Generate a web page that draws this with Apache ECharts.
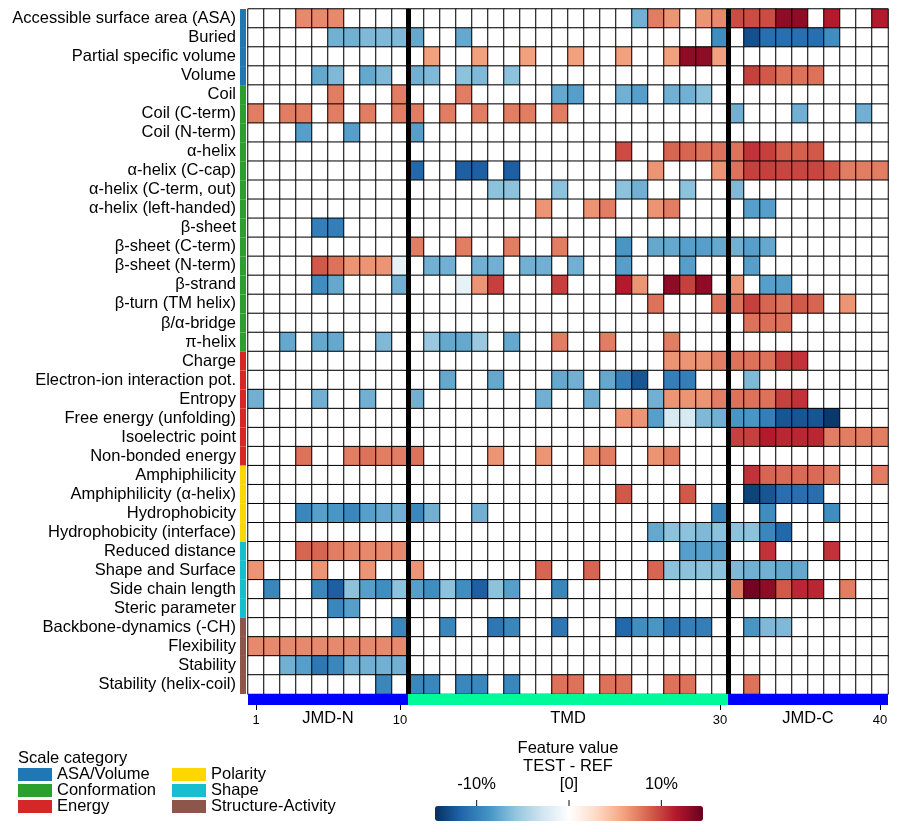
<!DOCTYPE html>
<html>
<head>
<meta charset="utf-8">
<script src="https://cdn.jsdelivr.net/npm/echarts@6/dist/echarts.min.js"></script>
<style>
  html, body { margin: 0; padding: 0; background: #fff; }
  #chart { width: 898px; height: 832px; }
</style>
</head>
<body>
<div id="chart"></div>
<script>
  // feature scales (rows, top to bottom)
  var featureNames = [
    'Accessible surface area (ASA)', 'Buried', 'Partial specific volume', 'Volume',
    'Coil', 'Coil (C-term)', 'Coil (N-term)', 'α-helix', 'α-helix (C-cap)', 'α-helix (C-term, out)',
    'α-helix (left-handed)', 'β-sheet', 'β-sheet (C-term)', 'β-sheet (N-term)', 'β-strand',
    'β-turn (TM helix)', 'β/α-bridge', 'π-helix',
    'Charge', 'Electron-ion interaction pot.', 'Entropy', 'Free energy (unfolding)',
    'Isoelectric point', 'Non-bonded energy',
    'Amphiphilicity', 'Amphiphilicity (α-helix)', 'Hydrophobicity', 'Hydrophobicity (interface)',
    'Reduced distance', 'Shape and Surface', 'Side chain length', 'Steric parameter',
    'Backbone-dynamics (-CH)', 'Flexibility', 'Stability', 'Stability (helix-coil)'
  ]
  var scaleCategories = ['ASA/Volume', 'Conformation', 'Energy', 'Polarity', 'Shape', 'Structure-Activity']
  var categoryRowCounts = [4, 14, 6, 4, 4, 4]
  var categoryColors = ['#1f77b4', '#2ca02c', '#d62728', '#ffd700', '#17becf', '#8c564b']

  // sequence parts
  var segmentNames = ['JMD-N', 'TMD', 'JMD-C']
  var segmentLengths = [10, 20, 10]
  var segmentColors = ['#0000ff', '#00fa9a', '#0000ff']
  var positionTicks = [1, 10, 30, 40]

  // colorbar
  var colorMin = -14.5
  var colorMax = 14.5
  var colorbarTicks = [-10, 0, 10]
  var colorbarTickLabels = ['-10%', '[0]', '10%']

  // feature values (TEST - REF, %), one array per position 1..40
  var asaVolumeRows = [
    [0,0,0,7,7,7,0,0,0,0, 0,0,0,0,0,0,0,0,0,0, 0,0,0,0,-7,7.5,6.5,0,6.5,7, 9.5,9.5,9.5,13,13,0,11.5,0,0,11.5],
    [0,0,0,0,0,-7,-7,-6.5,-6.5,-6.5, -7.5,0,0,-7.5,0,0,0,0,0,0, 0,0,0,0,0,0,0,0,0,-9, 0,-12.8,-11,-11,-11,-11,-9,0,0,0],
    [0,0,0,0,0,0,0,0,0,0, 0,6,0,0,6,0,0,6,0,0, 6,0,0,6,0,0,6,13,13,6, 0,0,0,0,0,0,0,0,0,0],
    [0,0,0,0,-7.5,-6.5,0,-7.5,-6.5,0, -7,-6.5,0,-6,-6.5,0,-6,0,0,0, 0,0,0,0,0,0,0,0,0,0, 0,10,9,8,8,8,0,0,0,0]
  ]
  var conformationRows = [
    [0,0,0,0,0,7.5,0,0,0,7.5, 0,0,0,7.5,0,0,0,0,0,-7.5, -8,0,0,-7,-8,0,-7,-7,-6,0, 0,0,0,0,0,0,0,0,0,0],
    [7.5,0,7.5,7.5,0,7.5,0,7.5,0,7.5, 7.5,0,7.5,0,7.5,0,7.5,7.5,0,7.5, 0,0,0,0,0,0,0,0,0,0, -7,0,0,0,-7,0,0,0,-7,0],
    [0,0,0,-8,0,0,-8,0,0,0, -8,0,0,0,0,0,0,0,0,0, 0,0,0,0,0,0,0,0,0,0, 0,0,0,0,0,0,0,0,0,0],
    [0,0,0,0,0,0,0,0,0,0, 0,0,0,0,0,0,0,0,0,0, 0,0,0,9.5,0,0,8.5,8.5,8,8, 8,10.5,10,8.7,8.7,9,0,0,0,0],
    [0,0,0,0,0,0,0,0,0,0, -11.5,0,0,-12,-12,0,-12,0,0,0, 0,0,0,0,0,6.5,0,0,0,6.5, 8,10,10,9.8,9.8,9.8,9,7.5,7.5,7.5],
    [0,0,0,0,0,0,0,0,0,0, 0,0,0,0,0,-6,-6,0,0,-6, 0,0,0,-6,-7,0,0,-6,0,0, -6.5,0,0,0,0,0,0,0,0,0],
    [0,0,0,0,0,0,0,0,0,0, 0,0,0,0,0,0,0,0,6.5,0, 0,6.5,7.5,0,0,6.5,7.5,0,0,0, 0,-8,-8,0,0,0,0,0,0,0],
    [0,0,0,0,-10,-10,0,0,0,0, 0,0,0,0,0,0,0,0,0,0, 0,0,0,0,0,0,0,0,0,0, 0,0,0,0,0,0,0,0,0,0],
    [0,0,0,0,0,0,0,0,0,0, 7.5,0,0,7.5,0,0,7.5,0,0,7.5, 0,0,0,-8.5,0,-7.5,-7.5,-8,-8,-7.5, -7,-8,-7.5,0,0,0,0,0,0,0],
    [0,0,0,0,9,8,6.5,6.5,6.5,-1.5, 0,-7,-7,0,-7,-7,0,-7,-7,0, -7,0,0,-8,0,0,0,-8,0,0, 0,-8,0,0,0,0,0,0,0,0],
    [0,0,0,0,-9,-7.5,0,0,0,-7, 0,0,0,-1.5,6.5,10,0,0,0,10, 0,0,0,11.5,6.5,0,13,10,13,0, 6.5,0,-8,-8,0,0,0,0,0,0],
    [0,0,0,0,0,0,0,0,0,0, 0,0,0,0,0,0,0,0,0,0, 0,0,0,0,0,8,0,0,0,8, 8,10,8.5,8,9,8.5,0,6.5,0,0],
    [0,0,0,0,0,0,0,0,0,0, 0,0,0,0,0,0,0,0,0,0, 0,0,0,0,0,0,0,0,0,0, 0,8,8,8,0,0,0,0,0,0],
    [0,0,-7.5,0,-7.5,-7.5,0,0,-6.5,0, 0,-5.5,-7.5,-7.5,-5.5,0,-7.5,0,0,7.5, 0,0,7.5,0,0,0,7.5,0,0,0, 0,0,0,0,0,0,0,0,0,0]
  ]
  var energyRows = [
    [0,0,0,0,0,0,0,0,0,0, 0,0,0,0,0,0,0,0,0,0, 0,0,0,0,0,0,6.5,6.5,6.5,7.5, 8,8,8,10,10.5,0,0,0,0,0],
    [0,0,0,0,0,0,0,0,0,0, 0,0,-7.5,0,0,-7.5,0,0,0,-7.5, -7,0,-7.5,-10,-12.5,0,-10,-10,0,0, 0,-6.5,0,0,0,0,0,0,0,0],
    [-7,0,0,0,-7,0,0,-7,0,0, -7,0,0,0,0,0,0,0,-7,0, 0,-7,0,0,0,-7,6.5,6.5,6.5,7.5, 8,8,8,10,10.5,0,0,0,0,0],
    [0,0,0,0,0,0,0,0,0,0, 0,0,0,0,0,0,0,0,0,0, 0,0,0,6.5,6.5,-8,-2.5,-2.5,-6.5,-7, -8.5,-8.5,-10,-12.5,-12.5,-12.5,-14,0,0,0],
    [0,0,0,0,0,0,0,0,0,0, 0,0,0,0,0,0,0,0,0,0, 0,0,0,0,0,0,0,0,0,0, 10,10,11.5,11,11,11,7.5,7.5,7.5,7.5],
    [0,0,0,8,0,0,7.5,8,7.5,7.5, 8,0,0,0,0,6.5,0,0,6.5,0, 0,6.5,7.5,0,0,6.5,7.5,0,0,0, 0,0,0,0,0,0,0,0,0,0]
  ]
  var polarityRows = [
    [0,0,0,0,0,0,0,0,0,0, 0,0,0,0,0,0,0,0,0,0, 0,0,0,0,0,0,0,0,0,0, 0,10.5,8.5,8.3,8.3,8.3,7.5,0,0,7.5],
    [0,0,0,0,0,0,0,0,0,0, 0,0,0,0,0,0,0,0,0,0, 0,0,0,9,0,0,0,9,0,0, 0,-13.5,-12.5,-11,-11,-11,0,0,0,0],
    [0,0,0,-9.5,-8,-8.5,-9.5,-8,-7.5,-7, -9.5,-7,0,0,-7,0,0,0,0,0, 0,0,0,0,0,0,0,0,0,-9.5, 0,0,-9,0,0,0,-9,0,0,0],
    [0,0,0,0,0,0,0,0,0,0, 0,0,0,0,0,0,0,0,0,0, 0,0,0,0,0,-7.5,-6,-6,-6.5,-6, -6,-6,-9.5,-11.5,0,0,0,0,0,0]
  ]
  var shapeRows = [
    [0,0,0,8.5,8.5,7.5,7,7,7,7, 0,0,0,0,0,0,0,0,0,0, 0,0,0,0,0,0,0,-8,-8,-8, 0,0,10.5,0,0,0,10.5,0,0,0],
    [6.5,0,0,0,6.5,0,0,6.5,0,0, 6.5,0,0,0,0,0,0,0,8.5,0, 0,8.5,0,0,0,8.5,-6,-6,-6,-6, -6.5,-7,-7,-7.5,-7.5,0,0,0,0,0],
    [0,-9.5,0,0,-9.5,-12,-6,-8,-9,-6, -8,-9,-6,-9,-12,-6,-8,0,0,-9.5, 0,0,0,0,0,0,0,0,0,0, 7.5,14,13,9,11,11,0,7.5,0,0],
    [0,0,0,0,0,-9.5,-8,0,0,0, 0,0,0,0,0,0,0,0,0,0, 0,0,0,0,0,0,0,0,0,0, 0,0,0,0,0,0,0,0,0,0]
  ]
  var structureActivityRows = [
    [0,0,0,0,0,0,0,0,0,-9.5, 0,0,-9.5,0,0,-10.5,-9.5,0,0,-10.5, 0,0,0,-11.5,-9,-8.5,-10.5,-10,-10,0, 0,-8.5,-6.5,-6.5,0,0,0,0,0,0],
    [7,7,7,7,7,7,7,7,7,7, 0,0,0,0,0,0,0,0,0,0, 0,0,0,0,0,0,0,0,0,0, 0,0,0,0,0,0,0,0,0,0],
    [0,0,-7,-8,-10.5,-9.5,-7,-7,-7,-7, 0,0,0,0,0,0,0,0,0,0, 0,0,0,0,0,0,0,0,0,0, 0,0,0,0,0,0,0,0,0,0],
    [0,0,0,0,0,0,0,0,-9.5,0, -9.5,-9.5,0,-9.5,-9.5,0,-9.5,0,0,8, 8,0,8,8,0,0,8,8,0,0, 0,8,0,0,0,0,0,0,0,0]
  ]

  var fontFamily = "'Liberation Sans', Arial, sans-serif"
  var fs = 16.5
  var rdbu = ['#053061', '#2166ac', '#4393c3', '#92c5de', '#d1e5f0', '#ffffff',
    '#fddbc7', '#f4a582', '#d6604d', '#b2182b', '#67001f']

  var allRows = [].concat(asaVolumeRows, conformationRows, energyRows, polarityRows, shapeRows, structureActivityRows)
  var nPos = allRows[0].length
  var positions = []
  for (var p = 1; p <= nPos; p++) positions.push(String(p))

  var heatData = []
  allRows.forEach(function (row, r) {
    row.forEach(function (v, c) {
      heatData.push([c, r, v])
    })
  })

  // which category each row belongs to
  var rowCategory = []
  categoryRowCounts.forEach(function (n, i) {
    for (var k = 0; k < n; k++) rowCategory.push(i)
  })
  var stripSeries = scaleCategories.map(function (name, i) {
    return {
      type: 'bar',
      name: name,
      xAxisIndex: 1,
      yAxisIndex: 1,
      barWidth: '100%',
      barGap: '-100%',
      silent: true,
      itemStyle: { color: categoryColors[i] },
      data: rowCategory.map(function (ci) { return ci === i ? 1 : '-' })
    }
  })

  // part bar under the heatmap
  var segData = []
  var segBounds = []
  var segCenters = []
  var acc = 0
  segmentLengths.forEach(function (n, i) {
    for (var k = 0; k < n; k++) segData.push({ value: 1, itemStyle: { color: segmentColors[i] } })
    segCenters.push(acc + n / 2)
    acc += n
    if (i < segmentLengths.length - 1) segBounds.push(acc)
  })
  function isPositionTick(idx) { return positionTicks.indexOf(idx + 1) >= 0 }

  var cbLeft = 435, cbWidth = 268, cbTop = 806

  var chart = echarts.init(document.getElementById('chart'))
  var option = {
    animation: false,
    backgroundColor: '#fff',
    textStyle: { fontFamily: fontFamily, color: '#000' },
    grid: [
      { left: 248, top: 9, width: 640, height: 685 },
      { left: 240, top: 9, width: 6, height: 685 },
      { left: 248, top: 694, width: 640, height: 11 },
      { left: 248, top: 9, width: 640, height: 685 },
      { left: cbLeft, top: cbTop - 6, width: cbWidth, height: 6 }
    ],
    xAxis: [
      { type: 'category', gridIndex: 0, data: positions, show: false },
      { type: 'value', gridIndex: 1, min: 0, max: 1, show: false },
      {
        type: 'category', gridIndex: 2, data: positions, position: 'bottom',
        axisLine: { show: false },
        splitLine: { show: false },
        axisTick: { show: true, alignWithLabel: true, interval: isPositionTick, length: 5,
          lineStyle: { color: '#000', width: 1 } },
        axisLabel: { interval: isPositionTick, fontSize: 13, color: '#000', margin: 9, fontFamily: fontFamily }
      },
      {
        type: 'value', gridIndex: 3, min: 0, max: nPos, position: 'bottom', offset: 11,
        axisLine: { show: false },
        splitLine: { show: false },
        axisTick: { show: false },
        axisLabel: { fontSize: fs, color: '#000', margin: 5, fontFamily: fontFamily,
          customValues: segCenters,
          formatter: function (v) { return segmentNames[segCenters.indexOf(v)] || '' } }
      },
      {
        type: 'value', gridIndex: 4, min: colorMin, max: colorMax, position: 'top',
        axisLine: { show: false },
        splitLine: { show: false },
        axisTick: { show: false },
        axisLabel: { fontSize: fs, color: '#000', margin: 7, fontFamily: fontFamily,
          customValues: colorbarTicks,
          formatter: function (v) { return colorbarTickLabels[colorbarTicks.indexOf(v)] } }
      }
    ],
    yAxis: [
      {
        type: 'category', gridIndex: 0, data: featureNames, inverse: true,
        axisLine: { show: false }, axisTick: { show: false },
        axisLabel: { interval: 0, fontSize: fs, color: '#000', margin: 12, fontFamily: fontFamily }
      },
      { type: 'category', gridIndex: 1, data: featureNames, inverse: true, show: false },
      { type: 'value', gridIndex: 2, min: 0, max: 1, show: false },
      { type: 'value', gridIndex: 3, min: 0, max: 1, show: false },
      { type: 'value', gridIndex: 4, min: 0, max: 1, show: false }
    ],
    visualMap: {
      type: 'continuous',
      seriesIndex: 0,
      min: colorMin,
      max: colorMax,
      orient: 'horizontal',
      left: cbLeft,
      top: cbTop,
      itemWidth: 15,
      itemHeight: cbWidth,
      padding: 0,
      calculable: false,
      hoverLink: false,
      text: null,
      inRange: { color: rdbu }
    },
    legend: [
      {
        data: scaleCategories.slice(0, 3), left: 18, top: 766, orient: 'vertical', padding: 0,
        icon: 'rect', itemWidth: 34, itemHeight: 13, itemGap: -1, selectedMode: false,
        textStyle: { fontSize: fs, color: '#000', fontFamily: fontFamily }
      },
      {
        data: scaleCategories.slice(3), left: 172, top: 766, orient: 'vertical', padding: 0,
        icon: 'rect', itemWidth: 34, itemHeight: 13, itemGap: -1, selectedMode: false,
        textStyle: { fontSize: fs, color: '#000', fontFamily: fontFamily }
      }
    ],
    graphic: [
      { type: 'text', x: 18, y: 758, style: { text: 'Scale category', font: fs + 'px ' + fontFamily, fill: '#000', textVerticalAlign: 'middle' } },
      { type: 'text', x: 568, y: 748, style: { text: 'Feature value', font: fs + 'px ' + fontFamily, fill: '#000', textAlign: 'center', textVerticalAlign: 'middle' } },
      { type: 'text', x: 568, y: 766, style: { text: 'TEST - REF', font: fs + 'px ' + fontFamily, fill: '#000', textAlign: 'center', textVerticalAlign: 'middle' } }
    ],
    series: [
      {
        type: 'heatmap',
        xAxisIndex: 0,
        yAxisIndex: 0,
        data: heatData,
        itemStyle: { borderColor: '#000', borderWidth: 1 },
        emphasis: { disabled: true },
        silent: true
      }
    ].concat(stripSeries, [
      {
        type: 'bar',
        xAxisIndex: 2,
        yAxisIndex: 2,
        barWidth: '100%',
        silent: true,
        data: segData
      },
      {
        type: 'line',
        xAxisIndex: 3,
        yAxisIndex: 3,
        data: [],
        symbol: 'none',
        silent: true,
        markLine: {
          silent: true,
          symbol: ['none', 'none'],
          label: { show: false },
          lineStyle: { color: '#000', width: 5, type: 'solid' },
          data: segBounds.map(function (b) { return { xAxis: b } })
        }
      },
      {
        // colorbar tick marks, placed by the colorbar's value scale
        type: 'scatter',
        xAxisIndex: 4,
        yAxisIndex: 4,
        silent: true,
        symbol: 'rect',
        symbolSize: [1.2, 6],
        itemStyle: { color: '#000' },
        data: colorbarTicks.map(function (t) { return [t, 0.5] })
      }
    ])
  }
  chart.setOption(option)
</script>
</body>
</html>
